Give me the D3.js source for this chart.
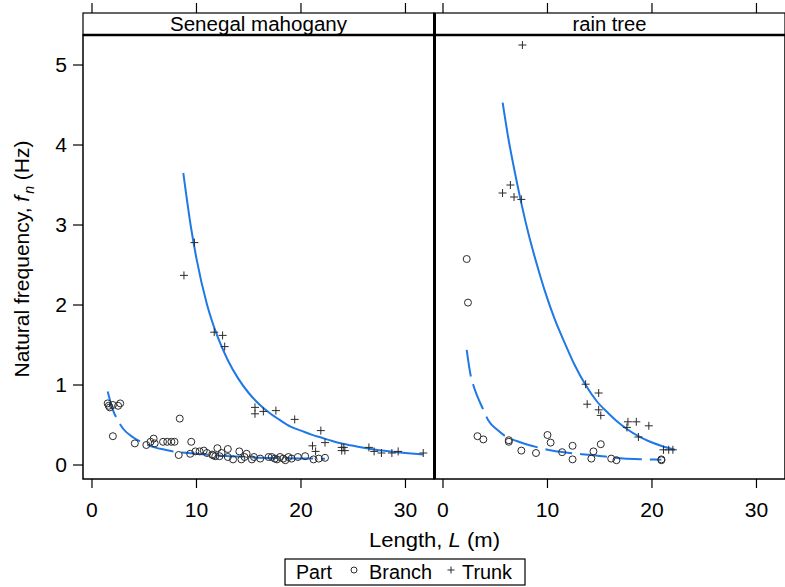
<!DOCTYPE html>
<html><head><meta charset="utf-8">
<script src="https://cdn.jsdelivr.net/npm/d3@7"></script>
<style>body{margin:0;background:#fff}svg{display:block}text{font-family:"Liberation Sans",Arial,Helvetica,sans-serif;fill:#000}</style>
</head><body>
<svg id="c" width="785" height="587"></svg>
<script>
const panels = ["Senegal mahogany", "rain tree"];
const xTicks = [0, 10, 20, 30];
const yTicks = [0, 1, 2, 3, 4, 5];
const legendLabels = ["Branch", "Trunk"];

// Senegal mahogany: [length m, frequency Hz]
const mahoganyBranch = [[1.5,0.77],[1.6,0.74],[1.7,0.72],[2.0,0.75],[2.5,0.74],[2.7,0.77],
 [2.0,0.36],[4.1,0.27],[5.2,0.25],[5.6,0.29],[5.9,0.33],[6.0,0.27],[6.8,0.29],[7.2,0.29],[7.6,0.29],[7.9,0.29],
 [8.4,0.58],[8.3,0.125],[9.5,0.29],[9.4,0.14],[9.9,0.17],[10.3,0.17],[10.7,0.18],[11.0,0.15],[11.5,0.13],[11.6,0.12],
 [11.8,0.11],[12.0,0.21],[12.2,0.11],[12.4,0.15],[13.0,0.2],[13.0,0.1],[13.5,0.07],[14.1,0.17],[14.3,0.07],[14.6,0.1],
 [14.8,0.14],[15.3,0.07],[15.5,0.1],[16.1,0.08],[16.9,0.1],[17.2,0.1],[17.5,0.08],[17.7,0.07],[18.0,0.1],[18.3,0.08],
 [18.5,0.06],[18.8,0.1],[19.1,0.08],[19.7,0.1],[20.4,0.11],[21.2,0.07],[21.7,0.08],[22.3,0.09]];
const mahoganyTrunk = [[8.8,2.37],[9.8,2.78],[11.7,1.66],[12.5,1.62],[12.7,1.48],[15.6,0.72],[15.6,0.64],[16.4,0.67],
 [17.6,0.68],[19.4,0.57],[21.9,0.43],[21.1,0.24],[21.4,0.17],[22.3,0.28],[23.9,0.22],[24.1,0.22],[23.9,0.18],[24.2,0.18],
 [26.5,0.22],[27.0,0.17],[27.7,0.15],[28.7,0.15],[29.3,0.17],[31.7,0.15]];
const mahoganyBranchFit = [[1.5,0.92],[2,0.69],[2.5,0.55],[3,0.45],[4,0.34],[5,0.27],[6,0.22],[7,0.19],[8,0.165],
 [10,0.14],[12,0.12],[14,0.105],[16,0.092],[18,0.087],[20,0.082],[22.3,0.078]];
const mahoganyTrunkFit = [[8.74,3.65],[9.5,2.95],[10,2.58],[11,2.01],[12,1.61],[13,1.31],[14,1.08],[15,0.9],[16,0.76],
 [17,0.65],[18,0.56],[19,0.48],[20,0.43],[21,0.38],[22,0.34],[23,0.3],[24,0.265],[25,0.24],[26,0.215],[27,0.195],
 [28,0.178],[29,0.163],[30,0.15],[31.7,0.13]];

// rain tree
const rainBranch = [[2.27,2.575],[2.39,2.03],[3.3,0.36],[3.86,0.32],[6.3,0.31],[6.3,0.29],[7.5,0.18],[8.9,0.15],
 [10.0,0.375],[10.3,0.28],[11.4,0.16],[12.4,0.24],[12.4,0.07],[14.4,0.17],[14.2,0.08],[15.1,0.26],[16.1,0.08],
 [16.6,0.06],[20.9,0.07],[20.9,0.06]];
const rainTrunk = [[7.6,5.25],[6.45,3.5],[5.7,3.4],[6.8,3.35],[7.5,3.32],[13.65,1.01],[14.9,0.9],[13.8,0.76],
 [14.9,0.69],[15.1,0.62],[17.7,0.54],[18.5,0.54],[17.6,0.47],[19.7,0.49],[18.7,0.35],[21.1,0.19],[21.6,0.19],[22.0,0.19]];
const rainBranchFit = [[2.27,1.44],[2.68,1.1],[2.9,1.0],[3.86,0.69],[4.33,0.56],[5.2,0.44],[6.1,0.35],[7.05,0.3],
 [8.2,0.25],[9.4,0.21],[10.4,0.18],[12.95,0.14],[14.2,0.125],[16.1,0.096],[17.25,0.08],[19.8,0.07],[20.9,0.065]];
const rainTrunkFit = [[5.71,4.53],[6.3,4.05],[6.89,3.65],[7.5,3.27],[8.2,2.88],[9,2.5],[9.76,2.17],[10.7,1.82],
 [11.67,1.52],[12.6,1.25],[13.65,1.0],[14.7,0.8],[15.8,0.65],[16.7,0.54],[17.7,0.44],[18.7,0.36],[19.65,0.3],
 [21,0.235],[22.2,0.19]];

const data = [
  {branch: mahoganyBranch, trunk: mahoganyTrunk, bfit: mahoganyBranchFit, tfit: mahoganyTrunkFit},
  {branch: rainBranch, trunk: rainTrunk, bfit: rainBranchFit, tfit: rainTrunkFit}
];

const svg = d3.select("#c");
const panelX = [83, 434];
const panelW = 351;
const plotTop = 35, plotBottom = 479, stripTop = 13;
const blue = "#1f78e6";
const ptCol = "#2b2b2b";
const y = d3.scaleLinear().domain([-0.175, 5.375]).range([plotBottom, plotTop]);

function plus(g, cx, cy, s, col, w){
  g.append("line").attr("x1", cx - s).attr("x2", cx + s).attr("y1", cy).attr("y2", cy).attr("stroke", col).attr("stroke-width", w);
  g.append("line").attr("x1", cx).attr("x2", cx).attr("y1", cy - s).attr("y2", cy + s).attr("stroke", col).attr("stroke-width", w);
}
function stretch(sel, f, len){
  const n = sel.node();
  const L = len || n.getComputedTextLength() * f;
  sel.attr("textLength", L).attr("lengthAdjust", "spacingAndGlyphs");
  return sel;
}
const stripWidths = [177, 74];

panels.forEach((name, i) => {
  const x0 = panelX[i];
  const x = d3.scaleLinear().domain([-0.86, 32.73]).range([x0, x0 + panelW]);
  const g = svg.append("g");
  const d = data[i];
  const line = d3.line().x(p => x(p[0])).y(p => y(p[1])).curve(d3.curveMonotoneX);
  g.append("path").attr("d", line(d.bfit)).attr("fill", "none").attr("stroke", blue)
    .attr("stroke-width", 2).attr("stroke-dasharray", "27,8");
  g.append("path").attr("d", line(d.tfit)).attr("fill", "none").attr("stroke", blue).attr("stroke-width", 2);
  d.branch.forEach(p => g.append("circle").attr("cx", x(p[0])).attr("cy", y(p[1])).attr("r", 3.5)
    .attr("fill", "none").attr("stroke", ptCol).attr("stroke-width", 1));
  d.trunk.forEach(p => plus(g, x(p[0]), y(p[1]), 4, ptCol, 1));
  g.append("rect").attr("x", x0).attr("y", plotTop).attr("width", panelW).attr("height", plotBottom - plotTop)
    .attr("fill", "none").attr("stroke", "#000").attr("stroke-width", 1.5);
  g.append("rect").attr("x", x0).attr("y", stripTop).attr("width", panelW).attr("height", plotTop - stripTop)
    .attr("fill", "#fff").attr("stroke", "#000").attr("stroke-width", 1.2);
  g.append("line").attr("x1", x0).attr("x2", x0 + panelW).attr("y1", plotTop).attr("y2", plotTop)
    .attr("stroke", "#000").attr("stroke-width", 2.5);
  stretch(g.append("text").attr("x", x0 + panelW / 2).attr("y", 30.5).attr("text-anchor", "middle")
    .attr("font-size", 19.5).text(name), 1, stripWidths[i]);
  xTicks.forEach(t => {
    g.append("line").attr("x1", x(t)).attr("x2", x(t)).attr("y1", plotBottom).attr("y2", plotBottom + 9).attr("stroke", "#000").attr("stroke-width", 1.2);
    g.append("line").attr("x1", x(t)).attr("x2", x(t)).attr("y1", stripTop).attr("y2", 3).attr("stroke", "#000").attr("stroke-width", 1.2);
    stretch(g.append("text").attr("x", x(t)).attr("y", 517).attr("text-anchor", "middle").attr("font-size", 19.5).text(t), 1.08);
  });
});
svg.append("line").attr("x1", 434.5).attr("x2", 434.5).attr("y1", stripTop).attr("y2", plotBottom).attr("stroke", "#000").attr("stroke-width", 3);

yTicks.forEach(t => {
  svg.append("line").attr("x1", 73).attr("x2", 83).attr("y1", y(t)).attr("y2", y(t)).attr("stroke", "#000").attr("stroke-width", 1.2);
  stretch(svg.append("text").attr("x", 67).attr("y", y(t) + 7).attr("text-anchor", "end").attr("font-size", 19.5).text(t), 1.08);
});

const yt = svg.append("text").attr("transform", "translate(29,259) rotate(-90)").attr("text-anchor", "middle").attr("font-size", 21);
yt.append("tspan").text("Natural frequency, ");
yt.append("tspan").attr("font-style", "italic").text("f");
yt.append("tspan").attr("font-style", "italic").attr("font-size", 14).attr("dy", 5).attr("dx", 2).text("n");
yt.append("tspan").attr("dy", -5).text(" (Hz)");

const xt = svg.append("text").attr("x", 434.5).attr("y", 547).attr("text-anchor", "middle").attr("font-size", 20);
xt.append("tspan").text("Length, ");
xt.append("tspan").attr("font-style", "italic").text("L");
xt.append("tspan").text(" (m)");
stretch(xt, 1, 131);

const lg = svg.append("g");
lg.append("rect").attr("x", 285).attr("y", 559).attr("width", 240).attr("height", 26).attr("fill", "#fff").attr("stroke", "#000").attr("stroke-width", 1.2);
stretch(lg.append("text").attr("x", 296).attr("y", 579).attr("font-size", 20).text("Part"), 1, 36);
lg.append("circle").attr("cx", 354).attr("cy", 570).attr("r", 3).attr("fill", "none").attr("stroke", ptCol).attr("stroke-width", 1);
stretch(lg.append("text").attr("x", 369).attr("y", 579).attr("font-size", 20).text(legendLabels[0]), 1, 63);
plus(lg, 451, 570, 3.5, ptCol, 1);
stretch(lg.append("text").attr("x", 462).attr("y", 579).attr("font-size", 20).text(legendLabels[1]), 1, 50);
</script>
</body></html>
